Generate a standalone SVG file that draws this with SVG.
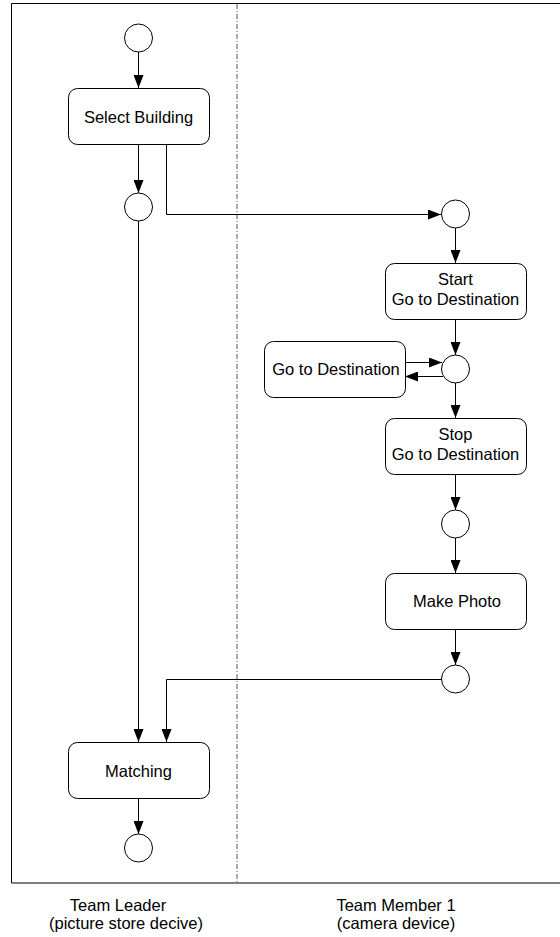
<svg xmlns="http://www.w3.org/2000/svg" width="560" height="937" viewBox="0 0 560 937">
  <style>
    .lane { fill: none; stroke: #000; stroke-width: 1; }
    .divider { fill: none; stroke: #555; stroke-width: 1; stroke-dasharray: 5 2 1 2; }
    .act { fill: #fff; stroke: #000; stroke-width: 1; }
    .state { fill: #fff; stroke: #000; stroke-width: 1; }
    .flow { fill: none; stroke: #000; stroke-width: 1; marker-end: url(#arrow); }
    text { font-family: "Liberation Sans", Arial, sans-serif; font-size: 16.5px; fill: #000; text-anchor: middle; }
  </style>
  <defs>
    <marker id="arrow" viewBox="0 0 13 10" refX="13" refY="5" markerWidth="13" markerHeight="10" markerUnits="userSpaceOnUse" orient="auto">
      <path d="M0,0 L13,5 L0,10 Z" fill="#000"/>
    </marker>
  </defs>

  <rect width="560" height="937" fill="#fff"/>

  <!-- swimlane frame, open to the right -->
  <g id="lanes">
    <path class="lane" d="M570,3.5 H11.5 V883 H570"/>
    <line class="divider" x1="237" y1="4" x2="237" y2="883"/>
    <text x="118" y="911">Team Leader</text>
    <text x="126" y="929">(picture store decive)</text>
    <text x="396" y="911">Team Member 1</text>
    <text x="396" y="929">(camera device)</text>
  </g>

  <!-- connectors -->
  <g id="connectors">
    <line class="flow" x1="138.5" y1="52" x2="138.5" y2="88"/>
    <line class="flow" x1="138.5" y1="144" x2="138.5" y2="193"/>
    <path class="flow" d="M166.5,144 V214.5 H441"/>
    <line class="flow" x1="138.5" y1="221" x2="138.5" y2="742"/>
    <line class="flow" x1="455.5" y1="228" x2="455.5" y2="263"/>
    <line class="flow" x1="455.5" y1="320" x2="455.5" y2="355"/>
    <line class="flow" x1="405" y1="362.5" x2="442" y2="362.5"/>
    <line class="flow" x1="443" y1="376.5" x2="405" y2="376.5"/>
    <line class="flow" x1="455.5" y1="383" x2="455.5" y2="418"/>
    <line class="flow" x1="455.5" y1="475" x2="455.5" y2="510"/>
    <line class="flow" x1="455.5" y1="538" x2="455.5" y2="573"/>
    <line class="flow" x1="455.5" y1="629" x2="455.5" y2="665"/>
    <path class="flow" d="M441,679.5 H166.5 V742"/>
    <line class="flow" x1="138.5" y1="798" x2="138.5" y2="834"/>
  </g>

  <!-- Team Leader lane -->
  <g id="start">
    <circle class="state" cx="138.5" cy="38" r="14"/>
  </g>
  <g id="select-building">
    <rect class="act" x="68.5" y="88.5" width="141" height="56" rx="9"/>
    <text x="138.5" y="123">Select Building</text>
  </g>
  <g id="fork">
    <circle class="state" cx="138.5" cy="207" r="14"/>
  </g>
  <g id="matching">
    <rect class="act" x="68.5" y="742.5" width="141" height="56" rx="9"/>
    <text x="138.5" y="777">Matching</text>
  </g>
  <g id="end">
    <circle class="state" cx="138.5" cy="848" r="14"/>
  </g>

  <!-- Team Member 1 lane -->
  <g id="receive">
    <circle class="state" cx="455.5" cy="214" r="14"/>
  </g>
  <g id="start-go">
    <rect class="act" x="385.5" y="263.5" width="141" height="56" rx="9"/>
    <text x="455.5" y="285">Start</text>
    <text x="455.5" y="305">Go to Destination</text>
  </g>
  <g id="loop">
    <circle class="state" cx="455.5" cy="369" r="14"/>
  </g>
  <g id="go">
    <rect class="act" x="264.5" y="341.5" width="141" height="56" rx="9"/>
    <text x="336" y="375">Go to Destination</text>
  </g>
  <g id="stop-go">
    <rect class="act" x="385.5" y="418.5" width="141" height="56" rx="9"/>
    <text x="455.5" y="440">Stop</text>
    <text x="455.5" y="460">Go to Destination</text>
  </g>
  <g id="arrived">
    <circle class="state" cx="455.5" cy="524" r="14"/>
  </g>
  <g id="make-photo">
    <rect class="act" x="385.5" y="573.5" width="141" height="56" rx="9"/>
    <text x="457" y="607">Make Photo</text>
  </g>
  <g id="photo-done">
    <circle class="state" cx="455.5" cy="679" r="14"/>
  </g>
</svg>
